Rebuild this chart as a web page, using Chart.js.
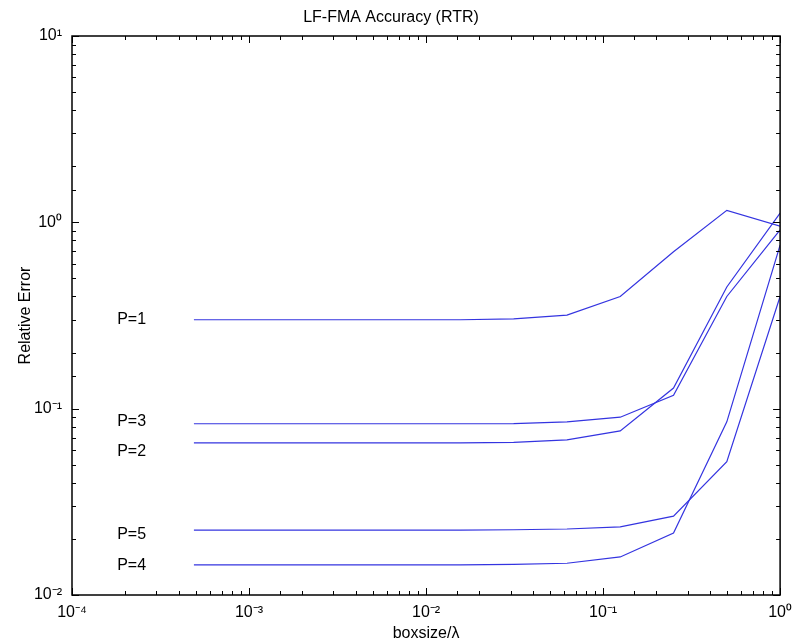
<!DOCTYPE html>
<html><head><meta charset="utf-8">
<script src="https://cdn.jsdelivr.net/npm/chart.js@4"></script>
<style>html,body{margin:0;padding:0;background:#fff}#c{display:block}</style>
</head><body>
<canvas id="c" width="800" height="644"></canvas>
<script>
// ---- data ----
const boxsize = [0.00048828125, 0.0009765625, 0.001953125, 0.00390625, 0.0078125, 0.015625, 0.03125, 0.0625, 0.125, 0.25, 0.5, 1];
const errP1 = [0.300, 0.300, 0.300, 0.300, 0.300, 0.300, 0.303, 0.318, 0.400, 0.695, 1.16, 0.955];
const errP2 = [0.0655, 0.0655, 0.0655, 0.0655, 0.0655, 0.0655, 0.0660, 0.0680, 0.0760, 0.129, 0.450, 1.12];
const errP3 = [0.0830, 0.0830, 0.0830, 0.0830, 0.0830, 0.0830, 0.0832, 0.0850, 0.0900, 0.118, 0.400, 0.910];
const errP4 = [0.0145, 0.0145, 0.0145, 0.0145, 0.0145, 0.0145, 0.0146, 0.0148, 0.0160, 0.0215, 0.0850, 0.755];
const errP5 = [0.0223, 0.0223, 0.0223, 0.0223, 0.0223, 0.0223, 0.0224, 0.0226, 0.0232, 0.0265, 0.0520, 0.400];
const seriesNames = ['P=1', 'P=2', 'P=3', 'P=4', 'P=5'];
const xTickLabels = ['10⁻⁴', '10⁻³', '10⁻²', '10⁻¹', '10⁰'];
const yTickLabels = ['10⁻²', '10⁻¹', '10⁰', '10¹'];
// in-plot text annotations (data coordinates)
const curveLabels = ['P=1', 'P=3', 'P=2', 'P=5', 'P=4'];
const curveLabelX = 1.8e-4;
const curveLabelY = [0.30, 0.0848, 0.0585, 0.0210, 0.0143];

// ---- chart ----
const FONT = "'Liberation Sans', Arial, Helvetica, sans-serif";
Chart.defaults.font.family = FONT;
const lineColor = '#3434e0';
const allSeries = [errP1, errP2, errP3, errP4, errP5];

function decadeIndex(v, minExp) {
  const e = Math.log10(v);
  const r = Math.round(e);
  return Math.abs(e - r) < 1e-6 ? r - minExp : -1;
}

const framePlugin = {
  id: 'frame',
  afterDatasetsDraw(chart) {
    const {ctx, chartArea: a, scales: {x, y}} = chart;
    ctx.save();
    ctx.strokeStyle = '#000';
    ctx.lineWidth = 1;
    ctx.beginPath();
    x.ticks.forEach(t => {
      const px = Math.round(x.getPixelForValue(t.value)) + 0.5;
      const len = decadeIndex(t.value, -4) >= 0 ? 7 : 4;
      ctx.moveTo(px, a.bottom); ctx.lineTo(px, a.bottom - len);
      ctx.moveTo(px, a.top); ctx.lineTo(px, a.top + len);
    });
    y.ticks.forEach(t => {
      const py = Math.round(y.getPixelForValue(t.value)) + 0.5;
      const len = decadeIndex(t.value, -2) >= 0 ? 7 : 4;
      ctx.moveTo(a.left, py); ctx.lineTo(a.left + len, py);
      ctx.moveTo(a.right, py); ctx.lineTo(a.right - len, py);
    });
    ctx.stroke();
    ctx.lineWidth = 1.5;
    ctx.strokeRect(a.left, a.top, a.right - a.left, a.bottom - a.top);
    ctx.fillStyle = '#000';
    ctx.font = '16px ' + FONT;
    ctx.textAlign = 'left';
    ctx.textBaseline = 'middle';
    curveLabels.forEach((txt, i) => {
      ctx.fillText(txt, x.getPixelForValue(curveLabelX), y.getPixelForValue(curveLabelY[i]));
    });
    ctx.restore();
  }
};

new Chart(document.getElementById('c'), {
  type: 'line',
  data: {
    datasets: allSeries.map((arr, i) => ({
      label: seriesNames[i],
      data: boxsize.map((bx, j) => ({x: bx, y: arr[j]})),
      borderColor: lineColor,
      borderWidth: 1.2,
      pointRadius: 0,
      tension: 0,
      fill: false
    }))
  },
  options: {
    responsive: false,
    animation: false,
    layout: {padding: {left: 0, right: 18, top: 0, bottom: 0}},
    plugins: {
      legend: {display: false},
      tooltip: {enabled: false},
      title: {
        display: true, text: 'LF-FMA Accuracy (RTR)', color: '#000',
        font: {size: 16, weight: 'normal'}, padding: {top: 8.4, bottom: 8.4}
      }
    },
    scales: {
      x: {
        type: 'logarithmic', position: 'bottom', min: 1e-4, max: 1,
        grid: {display: false, drawTicks: false}, border: {display: false},
        ticks: {
          autoSkip: false, maxRotation: 0, minRotation: 0, color: '#000',
          font: {size: 16}, padding: 8,
          callback: (v) => { const k = decadeIndex(v, -4); return k >= 0 ? xTickLabels[k] : ''; }
        },
        title: {display: true, text: 'boxsize/λ', color: '#000', font: {size: 16}, padding: {top: 0, bottom: 1}},
        afterFit: (s) => { s.height = 49; }
      },
      y: {
        type: 'logarithmic', position: 'left', min: 1e-2, max: 10,
        grid: {display: false, drawTicks: false}, border: {display: false},
        ticks: {
          autoSkip: false, color: '#000', font: {size: 16}, padding: 10,
          callback: (v) => { const k = decadeIndex(v, -2); return k >= 0 ? yTickLabels[k] : ''; }
        },
        title: {display: true, text: 'Relative Error', color: '#000', font: {size: 16}, padding: {top: 16, bottom: 0}},
        afterFit: (s) => { s.width = 72; }
      }
    }
  },
  plugins: [framePlugin]
});
</script>
</body></html>
